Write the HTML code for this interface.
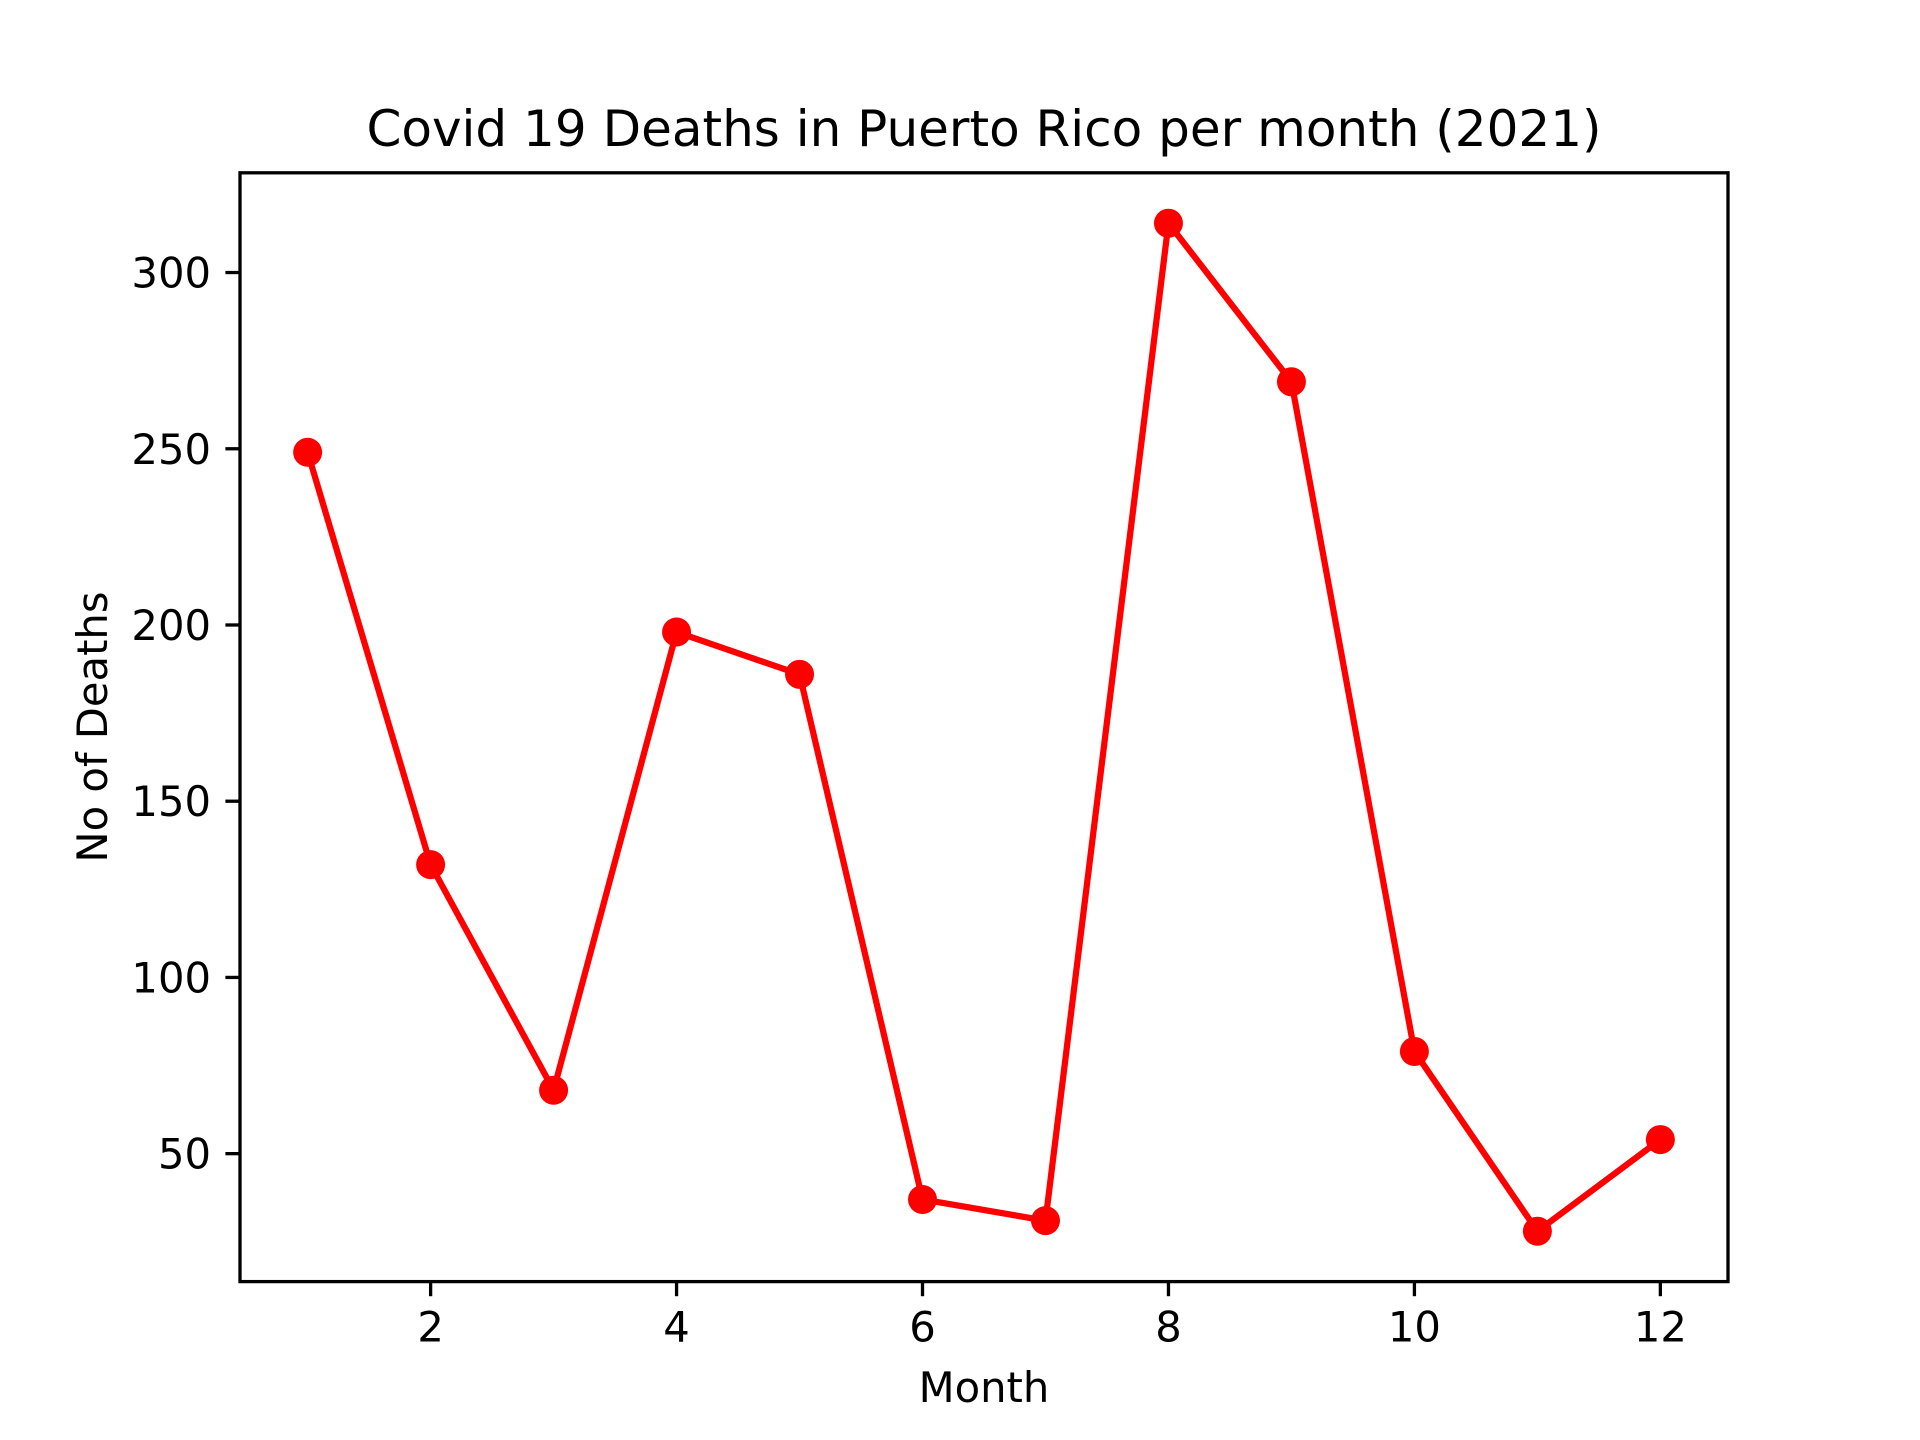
<!DOCTYPE html>
<html><head><meta charset="utf-8"><style>
html,body{margin:0;padding:0;background:#fff;}
svg{display:block;font-family:"DejaVu Sans","Liberation Sans",sans-serif;}
</style></head><body>
<svg id="chart" width="1920" height="1440" viewBox="0 0 1920 1440" xmlns="http://www.w3.org/2000/svg">
<rect width="1920" height="1440" fill="#fff"/>
<text x="984" y="146" font-size="50" text-anchor="middle">Covid 19 Deaths in Puerto Rico per month (2021)</text>
<text x="984" y="1402" font-size="41.7" text-anchor="middle">Month</text>
<text x="0" y="0" font-size="41.7" text-anchor="middle" transform="translate(107,727) rotate(-90)">No of Deaths</text>
<g id="ticks"></g>
<g id="series"></g>
<rect x="240" y="172.8" width="1488" height="1108.8" fill="none" stroke="#000" stroke-width="3.3"/>
</svg>
<script>
const months = [1,2,3,4,5,6,7,8,9,10,11,12];
const deaths = [249,132,68,198,186,37,31,314,269,79,28,54];
const xTicks = [2,4,6,8,10,12];
const yTicks = [50,100,150,200,250,300];

const L=240,R=1728,T=172.8,B=1281.6;
const xmin=0.45,xmax=12.55,ymin=13.7,ymax=328.3;
const sx=v=>L+(v-xmin)/(xmax-xmin)*(R-L);
const sy=v=>B-(v-ymin)/(ymax-ymin)*(B-T);
const NS='http://www.w3.org/2000/svg';
const tg=document.getElementById('ticks'), sg=document.getElementById('series');
function mk(tag,attrs,parent){const e=document.createElementNS(NS,tag);for(const k in attrs)e.setAttribute(k,attrs[k]);parent.appendChild(e);return e;}
xTicks.forEach(v=>{
  const l=mk('line',{x1:sx(v),x2:sx(v),y1:B,y2:B+14.6,stroke:'#000','stroke-width':3.3},tg);
  
  
  const t=mk('text',{x:sx(v),y:B+60,'font-size':41.7,'text-anchor':'middle'},tg);
  t.textContent=v;
  
  
});
yTicks.forEach(v=>{
  const l=mk('line',{x1:L-14.6,x2:L,y1:sy(v),y2:sy(v),stroke:'#000','stroke-width':3.3},tg);
  
  
  const t=mk('text',{x:L-29,y:sy(v)+15,'font-size':41.7,'text-anchor':'end'},tg);
  t.textContent=v;
  
  
});
const pts=months.map((m,i)=>sx(m)+','+sy(deaths[i])).join(' ');
const pl=mk('polyline',{points:pts,fill:'none',stroke:'#ff0000','stroke-width':6.25,'stroke-linejoin':'round'},sg);


months.forEach((m,i)=>{
  const c=mk('circle',{cx:sx(m),cy:sy(deaths[i]),r:14.5,fill:'#ff0000'},sg);
  
  
});
</script>
</body></html>
